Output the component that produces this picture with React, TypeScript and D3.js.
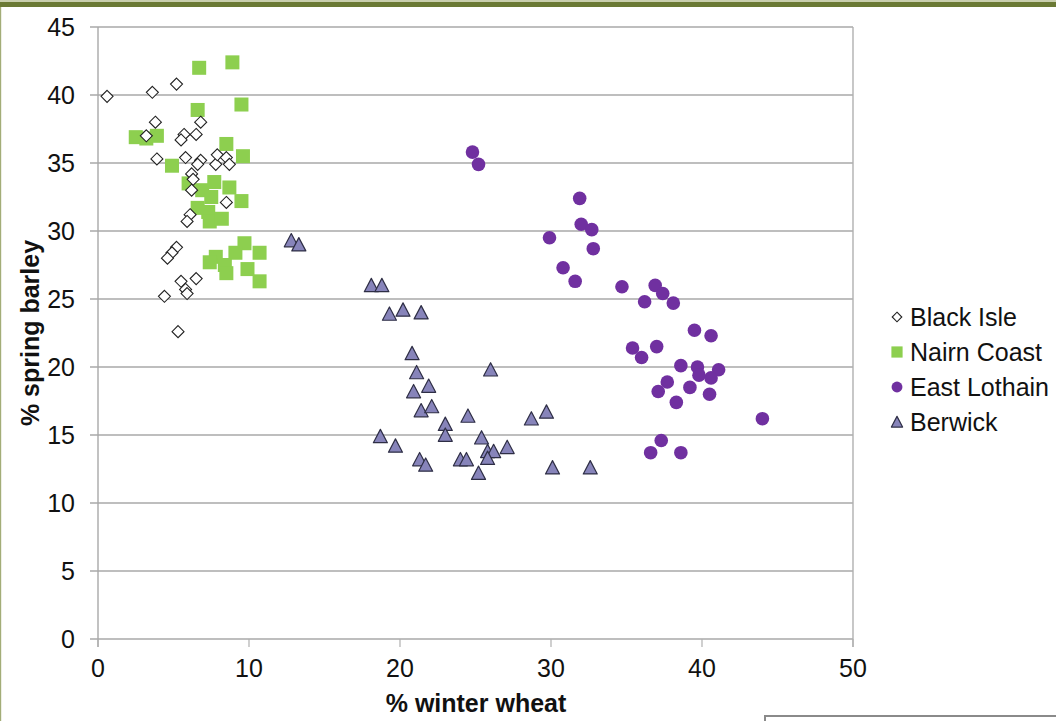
import * as d3 from 'd3'

const xTicks = [0, 10, 20, 30, 40, 50]
const yTicks = [0, 5, 10, 15, 20, 25, 30, 35, 40, 45]

const seriesNames = ['Black Isle', 'Nairn Coast', 'East Lothain', 'Berwick']

// [winter wheat %, spring barley %]
const blackIsle: [number, number][] = [
  [0.6, 39.9], [3.6, 40.2], [5.2, 40.8], [3.8, 38.0], [6.8, 38.0], [5.7, 37.1], [6.5, 37.1],
  [5.5, 36.7], [3.2, 37.0], [3.9, 35.3], [5.8, 35.4], [6.8, 35.2], [6.6, 34.9], [7.8, 34.9],
  [7.9, 35.6], [8.5, 35.4], [8.7, 34.9], [6.2, 34.2], [6.3, 33.8], [6.2, 33.0], [8.5, 32.1],
  [6.1, 31.2], [5.9, 30.7], [5.2, 28.8], [4.9, 28.4], [4.6, 28.0], [6.5, 26.5], [5.5, 26.3],
  [5.8, 25.7], [5.9, 25.4], [4.4, 25.2], [5.3, 22.6],
]

const nairnCoast: [number, number][] = [
  [6.7, 42.0], [8.9, 42.4], [6.6, 38.9], [9.5, 39.3], [2.5, 36.9], [3.2, 36.8], [3.9, 37.0],
  [8.5, 36.4], [9.6, 35.5], [4.9, 34.8], [6.0, 33.5], [6.9, 33.0], [7.7, 33.6], [8.7, 33.2],
  [7.5, 32.5], [9.5, 32.2], [6.6, 31.7], [7.3, 31.4], [7.4, 30.7], [8.2, 30.9], [9.7, 29.1],
  [10.7, 28.4], [9.1, 28.4], [7.8, 28.1], [7.4, 27.7], [8.4, 27.5], [8.5, 26.9], [9.9, 27.2],
  [10.7, 26.3],
]

const eastLothain: [number, number][] = [
  [24.8, 35.8], [25.2, 34.9], [31.9, 32.4], [32.0, 30.5], [32.7, 30.1], [29.9, 29.5], [32.8, 28.7],
  [30.8, 27.3], [31.6, 26.3], [34.7, 25.9], [36.9, 26.0], [37.4, 25.4], [36.2, 24.8], [38.1, 24.7],
  [39.5, 22.7], [40.6, 22.3], [35.4, 21.4], [37.0, 21.5], [36.0, 20.7], [38.6, 20.1], [39.7, 20.0],
  [41.1, 19.8], [39.8, 19.4], [40.6, 19.2], [37.7, 18.9], [37.1, 18.2], [39.2, 18.5], [40.5, 18.0],
  [38.3, 17.4], [44.0, 16.2], [37.3, 14.6], [36.6, 13.7], [38.6, 13.7],
]

const berwick: [number, number][] = [
  [12.8, 29.3], [13.3, 29.0], [18.1, 26.0], [18.8, 26.0], [19.3, 23.9], [20.2, 24.2], [21.4, 24.0],
  [20.8, 21.0], [21.1, 19.6], [26.0, 19.8], [20.9, 18.2], [21.9, 18.6], [21.4, 16.8], [22.1, 17.1],
  [24.5, 16.4], [23.0, 15.8], [23.0, 15.0], [28.7, 16.2], [29.7, 16.7], [18.7, 14.9], [19.7, 14.2],
  [25.4, 14.8], [21.3, 13.2], [21.7, 12.8], [24.0, 13.2], [24.4, 13.2], [25.8, 13.8], [26.2, 13.8],
  [25.8, 13.3], [27.1, 14.1], [25.2, 12.2], [30.1, 12.6], [32.6, 12.6],
]

const FONT = 'Arimo, "Liberation Sans", Arial, sans-serif'

function Marker({ kind, cx, cy, s = 1 }: { kind: number; cx: number; cy: number; s?: number }) {
  if (kind === 0) {
    const r = 6 * s
    return (
      <path
        d={`M${cx},${cy - r}L${cx + r},${cy}L${cx},${cy + r}L${cx - r},${cy}Z`}
        fill="#fff" stroke="#222" strokeWidth={1.1}
      />
    )
  }
  if (kind === 1) {
    const h = 7 * s
    return <rect x={cx - h} y={cy - h} width={h * 2} height={h * 2} fill="#8DCF4F" />
  }
  if (kind === 2) {
    return <circle cx={cx} cy={cy} r={6.8 * s} fill="#7030A0" />
  }
  const w = 7 * s
  return (
    <path
      d={`M${cx},${cy - w}L${cx + w},${cy + w * 0.9}L${cx - w},${cy + w * 0.9}Z`}
      fill="#8784BA" stroke="#2e2e45" strokeWidth={1.2} strokeLinejoin="round"
    />
  )
}

export default function App() {
  const width = 1056
  const height = 721
  const x = d3.scaleLinear().domain([0, 50]).range([98, 853])
  const y = d3.scaleLinear().domain([0, 45]).range([639, 27])

  // draw order: squares under diamonds
  const layers: { kind: number; data: [number, number][] }[] = [
    { kind: 1, data: nairnCoast },
    { kind: 0, data: blackIsle },
    { kind: 2, data: eastLothain },
    { kind: 3, data: berwick },
  ]

  return (
    <div style={{ position: 'fixed', left: 0, top: 0 }}>
      <svg width={width} height={height} style={{ display: 'block', background: '#fff' }} fontFamily={FONT}>
        {/* slide frame */}
        <rect x={0} y={2} width={width} height={5} fill="#6b7a35" />
        <rect x={0} y={0} width={width} height={2} fill="#c9cfae" />
        <rect x={0} y={7} width={1.2} height={height} fill="#a3ad78" />

        {/* grid */}
        {yTicks.map(t => (
          <g key={t}>
            <line x1={90} x2={x(50)} y1={y(t)} y2={y(t)} stroke="#a9a9a9" strokeWidth={1.3} />
            <text x={75} y={y(t)} dy="0.36em" textAnchor="end" fontSize={25} fill="#111">{t}</text>
          </g>
        ))}
        <line x1={x(0)} x2={x(0)} y1={y(45)} y2={y(0) + 8} stroke="#a8a8a8" strokeWidth={1.4} />
        <line x1={x(50)} x2={x(50)} y1={y(45)} y2={y(0) + 8} stroke="#b0b0b0" strokeWidth={1.4} />
        {xTicks.map(t => (
          <g key={t}>
            <line x1={x(t)} x2={x(t)} y1={y(0)} y2={y(0) + 8} stroke="#b0b0b0" strokeWidth={1.2} />
            <text x={x(t)} y={677} textAnchor="middle" fontSize={25} fill="#111">{t}</text>
          </g>
        ))}

        {/* points */}
        {layers.map(l => (
          <g key={l.kind}>
            {l.data.map((d, i) => (
              <Marker key={i} kind={l.kind} cx={x(d[0])} cy={y(d[1])} />
            ))}
          </g>
        ))}

        {/* axis titles */}
        <text x={476} y={712} textAnchor="middle" fontSize={25} fontWeight="bold" fill="#111">% winter wheat</text>
        <text transform={`translate(39,333) rotate(-90)`} textAnchor="middle" fontSize={25} fontWeight="bold" fill="#111">% spring barley</text>

        {/* legend */}
        {seriesNames.map((name, i) => {
          const cy = 317 + i * 35
          return (
            <g key={name}>
              <Marker kind={i} cx={897} cy={cy} s={0.8} />
              <text x={910} y={cy} dy="0.36em" fontSize={25} fill="#111">{name}</text>
            </g>
          )
        })}

        {/* next object box peeking in at the bottom */}
        <rect x={765} y={716} width={300} height={20} fill="#fff" stroke="#8a8a8a" strokeWidth={2} />
      </svg>
    </div>
  )
}
